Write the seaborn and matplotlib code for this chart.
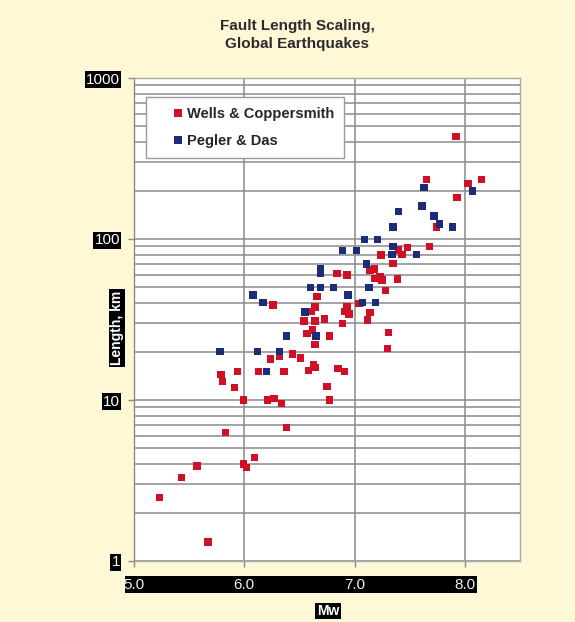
import matplotlib
matplotlib.use("Agg")
import matplotlib.pyplot as plt
from matplotlib.patches import Rectangle
from matplotlib.ticker import NullFormatter, LogLocator
import numpy as np
import pandas as pd
import seaborn as sns

# ---------------- data ----------------
wc_mw = [5.23, 5.43, 5.57, 5.67, 5.99, 6.02, 6.09, 5.83, 5.99, 6.21, 6.27, 6.34, 6.38,
         5.79, 5.80, 5.91, 5.94, 6.13, 6.36, 6.24, 6.32, 6.75, 6.77, 6.63, 6.58, 6.64,
         6.85, 6.91, 6.44, 6.51, 6.64, 6.57, 6.62, 6.77, 6.54, 6.64, 6.73, 6.89, 6.64,
         6.61, 6.66, 6.26, 6.93, 6.91, 6.95, 7.04, 7.14, 7.12, 6.84, 6.93, 7.14, 7.18,
         7.18, 7.23, 7.25, 7.39, 7.28, 7.31, 7.30, 7.24, 7.40, 7.43, 7.35, 7.48, 7.68,
         7.74, 7.65, 7.92, 8.03, 8.15, 7.93]
wc_len = [2.49, 3.29, 3.89, 1.31, 4.0, 3.82, 4.38, 6.27, 10.0, 10.0, 10.2, 9.5, 6.76,
          14.4, 13.0, 12.0, 15.0, 15.0, 15.0, 18.0, 18.8, 12.1, 10.0, 16.5, 15.2, 15.9,
          15.7, 15.0, 19.3, 18.2, 22.2, 26.0, 27.2, 25.0, 30.9, 31.0, 31.8, 29.9, 37.9,
          35.3, 43.8, 38.9, 37.9, 35.3, 34.2, 39.8, 35.0, 31.4, 61.2, 59.8, 64.2, 65.2,
          57.0, 58.0, 55.5, 56.4, 47.7, 26.2, 20.9, 79.7, 85.5, 80.4, 70.7, 88.8, 89.6,
          119, 235, 432, 222, 235, 181]

pd_mw = [5.78, 6.12, 6.32, 6.20, 6.38, 6.65, 6.08, 6.17, 6.55, 6.60, 6.69, 6.81, 6.69,
         6.69, 6.94, 6.89, 7.02, 7.07, 7.19, 7.13, 7.11, 7.09, 7.21, 7.35, 7.34, 7.56,
         7.35, 7.40, 7.61, 7.72, 7.77, 7.89, 7.63, 8.07]
pd_len = [20.0, 20.0, 20.0, 15.0, 25.0, 25.0, 44.9, 40.2, 35.2, 50.0, 50.0, 50.0, 65.8,
          60.9, 44.9, 84.6, 84.6, 40.2, 40.2, 50.0, 69.9, 99.6, 99.6, 89.6, 80.4, 80.4,
          119, 148, 160, 139, 124, 119, 209, 199]

series_names = ["Wells & Coppersmith", "Pegler & Das"]
x_ticks = [5.0, 6.0, 7.0, 8.0]
x_tick_labels = ["5.0", "6.0", "7.0", "8.0"]
y_ticks = [1, 10, 100, 1000]
y_tick_labels = ["1", "10", "100", "1000"]
title_text = "Fault Length Scaling,\nGlobal Earthquakes"
x_label = "Mw"
y_label = "Length, km"

df = pd.DataFrame({
    "Mw": wc_mw + pd_mw,
    "Length": wc_len + pd_len,
    "Source": [series_names[0]] * len(wc_mw) + [series_names[1]] * len(pd_mw),
})

# ---------------- style ----------------
BG = "#FEF8D6"
RED = "#CF1127"
BLUE = "#1D2C78"
GRID = "#8A8A8A"

sns.set_theme(style="white")
plt.rcParams["font.family"] = ["Liberation Sans", "DejaVu Sans"]

W, H = 575, 622
fig = plt.figure(figsize=(W / 100, H / 100), dpi=100, facecolor=BG)
ax = fig.add_axes([134 / W, 1 - 561 / H, 386 / W, 483 / H])
ax.set_facecolor("white")

sns.scatterplot(data=df, x="Mw", y="Length", hue="Source",
                palette={series_names[0]: RED, series_names[1]: BLUE},
                marker="s", s=28, linewidth=0, ax=ax, zorder=3)

ax.set_yscale("log")
ax.set_xlim(5.0, 8.5)
ax.set_ylim(1, 1000)

ax.set_xticks(x_ticks, labels=x_tick_labels)
ax.set_yticks(y_ticks, labels=y_tick_labels)
ax.yaxis.set_minor_locator(LogLocator(base=10, subs=np.arange(2, 10)))
ax.yaxis.set_minor_formatter(NullFormatter())

ax.grid(False)
ax.yaxis.grid(True, which="both", color=GRID, linewidth=1.1)
ax.xaxis.grid(True, which="major", color=GRID, linewidth=1.1)
ax.set_axisbelow(True)

for sp in ax.spines.values():
    sp.set_color("#A8A8A8")
    sp.set_linewidth(1.0)
ax.spines["left"].set_color("#8A8A8A")

ax.tick_params(axis="y", which="major", direction="out", length=4, width=1,
               color="#8A8A8A", pad=6, labelsize=11, labelcolor="white", left=True)
ax.tick_params(axis="y", which="minor", length=0)
ax.tick_params(axis="x", which="major", direction="out", length=4, width=1,
               color="#8A8A8A", pad=8.5, labelsize=11, labelcolor="#EEEEEE", bottom=True)

for t in ax.get_yticklabels():
    t.set_bbox(dict(facecolor="black", edgecolor="none", pad=1.0))

# black band behind x tick labels
fig.patches.append(Rectangle((125 / W, 1 - 593 / H), 352 / W, 17 / H,
                             transform=fig.transFigure, facecolor="black",
                             edgecolor="none", zorder=-1))

ax.set_xlabel("")
ax.set_ylabel("")
fig.text(328 / W, 1 - 611 / H, x_label, ha="center", va="center", fontsize=10,
         fontweight="bold", color="white",
         bbox=dict(facecolor="black", edgecolor="none", pad=1.0))
fig.text(117 / W, 1 - 328 / H, y_label, ha="center", va="center", fontsize=10,
         fontweight="bold", color="white", rotation=90,
         bbox=dict(facecolor="black", edgecolor="none", pad=1.0))

fig.text(297 / W, 1 - 35 / H, title_text, ha="center", va="center", fontsize=11,
         fontweight="bold", color="#2A2A2A", linespacing=1.35)

# legend
old = ax.get_legend()
handles = old.legend_handles
labels = [t.get_text() for t in old.get_texts()]
old.remove()
for h in handles:
    h.set_markersize(6)
leg = ax.legend(handles, labels, loc="upper left",
                bbox_to_anchor=((146 - 134) / 386, (561 - 97) / 483),
                borderaxespad=0, frameon=True, fancybox=False,
                prop={"weight": "bold", "size": 10.5},
                borderpad=0.7, handlelength=3.0, handletextpad=-0.9,
                labelspacing=0.85)
leg.get_frame().set_edgecolor("#9A9A9A")
leg.get_frame().set_linewidth(1.0)
leg.get_frame().set_facecolor("white")
leg.get_frame().set_alpha(1.0)

fig.savefig("out.png", dpi=100, facecolor=BG)
